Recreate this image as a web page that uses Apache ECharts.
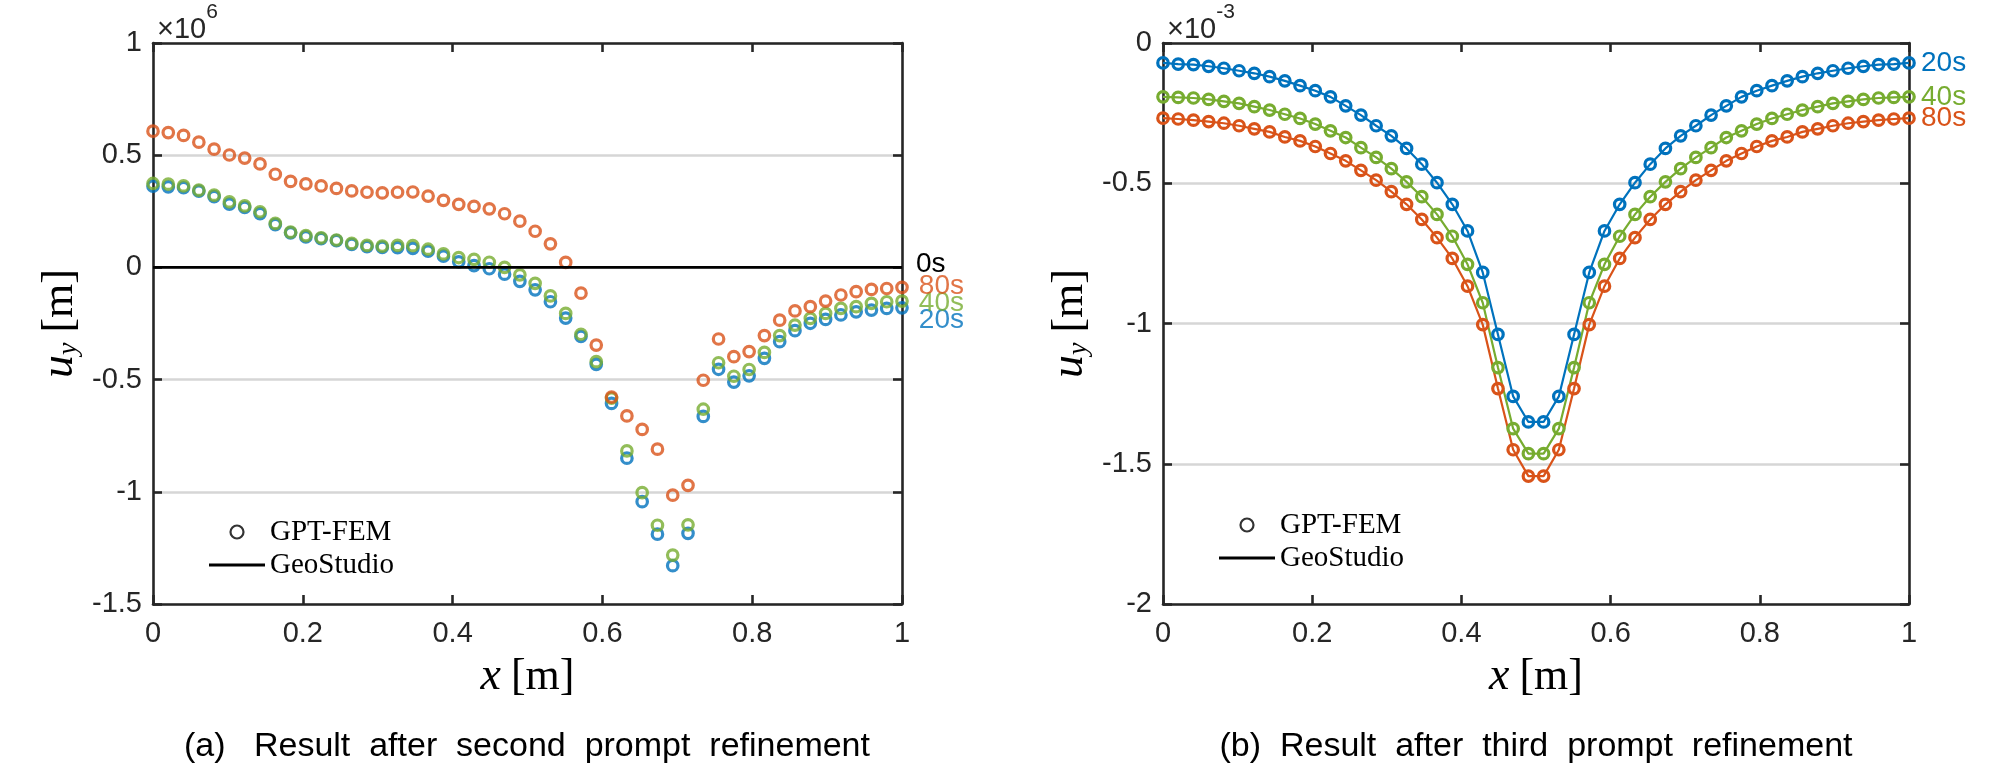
<!DOCTYPE html>
<html>
<head>
<meta charset="utf-8">
<script src="https://cdn.jsdelivr.net/npm/echarts@6/dist/echarts.min.js"></script>
<style>
html,body{margin:0;padding:0;background:#fff;}
#chart{width:2008px;height:771px;}
</style>
</head>
<body>
<div id="chart"></div>
<script>
// x positions of the 50 nodes (both panels)
const xNodes = [0,0.0204,0.0408,0.0612,0.0816,0.1020,0.1224,0.1429,0.1633,0.1837,
  0.2041,0.2245,0.2449,0.2653,0.2857,0.3061,0.3265,0.3469,0.3673,0.3878,
  0.4082,0.4286,0.4490,0.4694,0.4898,0.5102,0.5306,0.5510,0.5714,0.5918,
  0.6122,0.6327,0.6531,0.6735,0.6939,0.7143,0.7347,0.7551,0.7755,0.7959,
  0.8163,0.8367,0.8571,0.8776,0.8980,0.9184,0.9388,0.9592,0.9796,1];

// Panel (a): u_y in units of 1e6 m
const a_20s = [0.362,0.359,0.355,0.340,0.315,0.282,0.267,0.240,0.191,0.154,
  0.136,0.128,0.119,0.102,0.092,0.089,0.088,0.085,0.072,0.050,
  0.025,0.008,-0.006,-0.030,-0.062,-0.100,-0.153,-0.226,-0.308,-0.432,
  -0.606,-0.850,-1.044,-1.189,-1.329,-1.185,-0.664,-0.454,-0.511,-0.483,
  -0.405,-0.331,-0.282,-0.249,-0.232,-0.212,-0.198,-0.190,-0.183,-0.180];
const a_40s = [0.374,0.371,0.363,0.344,0.322,0.292,0.274,0.248,0.196,0.157,
  0.142,0.132,0.122,0.107,0.098,0.095,0.098,0.097,0.081,0.060,
  0.044,0.036,0.023,0.000,-0.033,-0.071,-0.127,-0.205,-0.298,-0.420,
  -0.583,-0.818,-1.004,-1.149,-1.282,-1.147,-0.632,-0.425,-0.485,-0.455,
  -0.379,-0.304,-0.257,-0.227,-0.205,-0.183,-0.175,-0.160,-0.153,-0.150];
const a_80s = [0.607,0.601,0.588,0.558,0.527,0.501,0.487,0.461,0.415,0.383,
  0.372,0.363,0.352,0.341,0.335,0.332,0.335,0.336,0.318,0.299,
  0.281,0.272,0.261,0.239,0.206,0.161,0.105,0.022,-0.115,-0.346,
  -0.578,-0.662,-0.722,-0.810,-1.015,-0.971,-0.503,-0.319,-0.398,-0.375,
  -0.304,-0.235,-0.194,-0.175,-0.150,-0.123,-0.108,-0.098,-0.094,-0.089];
const a_0sX = [0, 1];
const a_0sY = [0, 0];

// Panel (b): u_y in units of 1e-3 m
const b_20s = [-0.071,-0.075,-0.077,-0.083,-0.090,-0.099,-0.108,-0.120,-0.135,-0.152,
  -0.170,-0.192,-0.224,-0.257,-0.295,-0.331,-0.376,-0.432,-0.498,-0.575,
  -0.670,-0.818,-1.039,-1.260,-1.351,-1.351,-1.260,-1.039,-0.818,-0.670,
  -0.575,-0.498,-0.432,-0.376,-0.331,-0.295,-0.257,-0.224,-0.192,-0.170,
  -0.152,-0.135,-0.120,-0.108,-0.099,-0.090,-0.083,-0.077,-0.075,-0.071];
const b_40s = [-0.192,-0.194,-0.196,-0.201,-0.208,-0.215,-0.227,-0.239,-0.254,-0.269,
  -0.289,-0.313,-0.337,-0.373,-0.408,-0.448,-0.495,-0.548,-0.611,-0.689,
  -0.789,-0.926,-1.157,-1.375,-1.464,-1.464,-1.375,-1.157,-0.926,-0.789,
  -0.689,-0.611,-0.548,-0.495,-0.448,-0.408,-0.373,-0.337,-0.313,-0.289,
  -0.269,-0.254,-0.239,-0.227,-0.215,-0.208,-0.201,-0.196,-0.194,-0.192];
const b_80s = [-0.268,-0.271,-0.275,-0.280,-0.286,-0.295,-0.306,-0.317,-0.335,-0.349,
  -0.369,-0.394,-0.420,-0.454,-0.489,-0.530,-0.575,-0.629,-0.694,-0.768,
  -0.867,-1.004,-1.232,-1.450,-1.544,-1.544,-1.450,-1.232,-1.004,-0.867,
  -0.768,-0.694,-0.629,-0.575,-0.530,-0.489,-0.454,-0.420,-0.394,-0.369,
  -0.349,-0.335,-0.317,-0.306,-0.295,-0.286,-0.280,-0.275,-0.271,-0.268];

const xTicks = [0, 0.2, 0.4, 0.6, 0.8, 1];
const aYTicks = [-1.5, -1, -0.5, 0, 0.5, 1];
const bYTicks = [-2, -1.5, -1, -0.5, 0];

const C20 = '#0072BD', C40 = '#77AC30', C80 = '#D95319';
const AX = '#262626';
const SANS = 'Liberation Sans';
const SERIF = 'Liberation Serif';
const TICK_FS = 29;
const LAB_FS = 28;
const SYM = 10.5;

function pairs(xs, ys) { return xs.map((x, i) => [x, ys[i]]); }
function labeledPairs(xs, ys, text, color, dy) {
  const d = pairs(xs, ys);
  const last = d.length - 1;
  d[last] = { value: d[last], label: { show: true, position: 'right', distance: 10, formatter: text,
    color: color, fontSize: LAB_FS, fontFamily: SANS, offset: [0, dy] } };
  return d;
}

const markerStyle = c => ({ color: 'transparent', borderColor: c, borderWidth: 3.2 });

function xAx(gi, pos, named) {
  return {
    type: 'value', gridIndex: gi, position: pos, min: xTicks[0], max: xTicks[xTicks.length - 1], interval: 0.2,
    axisLine: { show: true, onZero: false, lineStyle: { color: AX, width: 2.6 } },
    axisTick: { show: true, inside: true, length: 9, lineStyle: { color: AX, width: 2.6 } },
    axisLabel: { show: named, fontSize: TICK_FS, color: AX, fontFamily: SANS, margin: 15 },
    splitLine: { show: false },
    name: named ? '{i|x}   {n|[m]}' : '',
    nameLocation: 'middle', nameGap: 50,
    nameTextStyle: { rich: {
      i: { fontFamily: SERIF, fontStyle: 'italic', fontSize: 46, color: '#000' },
      n: { fontFamily: SERIF, fontSize: 44, color: '#000' } } }
  };
}
function yAx(gi, pos, ticks, named) {
  return {
    type: 'value', gridIndex: gi, position: pos, min: ticks[0], max: ticks[ticks.length - 1], interval: 0.5,
    axisLine: { show: true, onZero: false, lineStyle: { color: AX, width: 2.6 } },
    axisTick: { show: true, inside: true, length: 9, lineStyle: { color: AX, width: 2.6 } },
    axisLabel: { show: named, fontSize: TICK_FS, color: AX, fontFamily: SANS, margin: 11 },
    splitLine: { show: named, lineStyle: { color: '#d6d6d6', width: 2.5 } },
    name: named ? '{i|u}{s|y}   {n|[m]}' : '',
    nameLocation: 'middle', nameGap: 70,
    nameTextStyle: { rich: {
      i: { fontFamily: SERIF, fontStyle: 'italic', fontSize: 46, color: '#000', lineHeight: 46 },
      s: { fontFamily: SERIF, fontStyle: 'italic', fontSize: 28, color: '#000', lineHeight: 28, verticalAlign: 'bottom' },
      n: { fontFamily: SERIF, fontSize: 44, color: '#000', lineHeight: 46 } } }
  };
}

const chart = echarts.init(document.getElementById('chart'), null, { renderer: 'canvas' });

const legendBase = {
  orient: 'vertical', itemWidth: 56, itemHeight: 13, itemGap: 3, selectedMode: false,
  textStyle: { fontFamily: SERIF, fontSize: 29, color: '#000', lineHeight: 30 },
  data: [
    { name: 'GPT-FEM', icon: 'circle', itemStyle: { color: 'transparent', borderColor: '#000', borderWidth: 2.2 } },
    { name: 'GeoStudio', icon: 'path://M0,0L56,0L56,3L0,3Z', itemStyle: { color: '#000', borderWidth: 0 } }
  ]
};

const option = {
  animation: false,
  backgroundColor: '#fff',
  grid: [
    { left: 153, top: 43, width: 749, height: 561 },
    { left: 1163, top: 43, width: 746, height: 561 }
  ],
  xAxis: [xAx(0, 'bottom', true), xAx(0, 'top', false), xAx(1, 'bottom', true), xAx(1, 'top', false)],
  yAxis: [yAx(0, 'left', aYTicks, true), yAx(0, 'right', aYTicks, false), yAx(1, 'left', bYTicks, true), yAx(1, 'right', bYTicks, false)],
  legend: [
    Object.assign({}, legendBase, { left: 204, top: 512 }),
    Object.assign({}, legendBase, { left: 1214, top: 505 })
  ],
  graphic: [
    { type: 'text', x: 157, y: 2, style: { text: '{a|×10}{b|6}', fill: AX,
      rich: { a: { fontFamily: SANS, fontSize: 29, lineHeight: 42, verticalAlign: 'bottom', fill: AX },
              b: { fontFamily: SANS, fontSize: 21, lineHeight: 21, verticalAlign: 'top', fill: AX } } } },
    { type: 'text', x: 1167, y: 2, style: { text: '{a|×10}{b|-3}', fill: AX,
      rich: { a: { fontFamily: SANS, fontSize: 29, lineHeight: 42, verticalAlign: 'bottom', fill: AX },
              b: { fontFamily: SANS, fontSize: 21, lineHeight: 21, verticalAlign: 'top', fill: AX } } } },
    { type: 'text', x: 527, y: 747, style: { text: '(a)   Result  after  second  prompt  refinement',
      font: '34px "Liberation Sans"', fill: '#000', textAlign: 'center', textVerticalAlign: 'middle', align: 'center', verticalAlign: 'middle' } },
    { type: 'text', x: 1536, y: 747, style: { text: '(b)  Result  after  third  prompt  refinement',
      font: '34px "Liberation Sans"', fill: '#000', textAlign: 'center', textVerticalAlign: 'middle', align: 'center', verticalAlign: 'middle' } }
  ],
  series: [
    { name: '0s', type: 'line', xAxisIndex: 0, yAxisIndex: 0, data: pairs(a_0sX, a_0sY), symbol: 'none',
      lineStyle: { color: '#000', width: 2.6 }, itemStyle: { color: '#000' },
      endLabel: { show: true, formatter: '0s', color: '#000', fontSize: LAB_FS, fontFamily: SANS, distance: 14, offset: [0, -3] } },
    { name: '20s-a', type: 'scatter', xAxisIndex: 0, yAxisIndex: 0, symbol: 'circle', symbolSize: SYM,
      itemStyle: markerStyle(C20), data: labeledPairs(xNodes, a_20s, '20s', C20, 12) },
    { name: '40s-a', type: 'scatter', xAxisIndex: 0, yAxisIndex: 0, symbol: 'circle', symbolSize: SYM,
      itemStyle: markerStyle(C40), data: labeledPairs(xNodes, a_40s, '40s', C40, 2) },
    { name: '80s-a', type: 'scatter', xAxisIndex: 0, yAxisIndex: 0, symbol: 'circle', symbolSize: SYM,
      itemStyle: markerStyle(C80), data: labeledPairs(xNodes, a_80s, '80s', C80, -1) },
    { name: '20s-b', type: 'line', xAxisIndex: 2, yAxisIndex: 2, symbol: 'circle', symbolSize: SYM, showAllSymbol: true,
      itemStyle: markerStyle(C20), lineStyle: { color: C20, width: 2.2 }, data: pairs(xNodes, b_20s),
      endLabel: { show: true, formatter: '20s', color: C20, fontSize: LAB_FS, fontFamily: SANS, distance: 12 } },
    { name: '40s-b', type: 'line', xAxisIndex: 2, yAxisIndex: 2, symbol: 'circle', symbolSize: SYM, showAllSymbol: true,
      itemStyle: markerStyle(C40), lineStyle: { color: C40, width: 2.2 }, data: pairs(xNodes, b_40s),
      endLabel: { show: true, formatter: '40s', color: C40, fontSize: LAB_FS, fontFamily: SANS, distance: 12 } },
    { name: '80s-b', type: 'line', xAxisIndex: 2, yAxisIndex: 2, symbol: 'circle', symbolSize: SYM, showAllSymbol: true,
      itemStyle: markerStyle(C80), lineStyle: { color: C80, width: 2.2 }, data: pairs(xNodes, b_80s),
      endLabel: { show: true, formatter: '80s', color: C80, fontSize: LAB_FS, fontFamily: SANS, distance: 12 } },
    { name: 'GPT-FEM', type: 'scatter', xAxisIndex: 0, yAxisIndex: 0, data: [], symbol: 'circle',
      itemStyle: { color: 'transparent', borderColor: '#000', borderWidth: 2.2 } },
    { name: 'GeoStudio', type: 'line', xAxisIndex: 0, yAxisIndex: 0, data: [], symbol: 'none',
      lineStyle: { color: '#000', width: 3 }, itemStyle: { color: '#000' } }
  ]
};
chart.setOption(option);
</script>
</body>
</html>
